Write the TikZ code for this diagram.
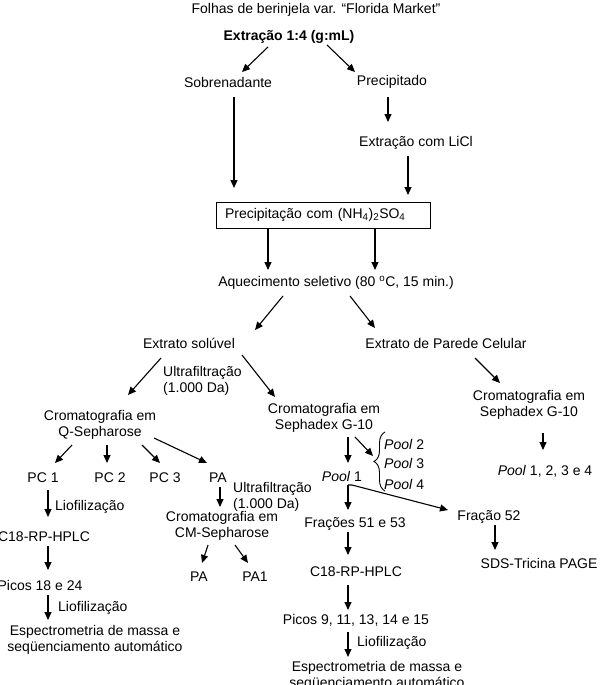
\documentclass[tikz,border=0pt]{standalone}
\usepackage{fontspec}
\setmainfont{Liberation Sans}
\usetikzlibrary{arrows.meta,calc,decorations.pathreplacing}
\begin{document}
\begin{tikzpicture}[x=1pt,y=-1pt,
  every node/.style={inner sep=0pt,font=\fontsize{14}{16}\selectfont},
  lbl/.style={align=center},
  lbll/.style={align=left,anchor=west},
  arr/.style={line width=1.1pt,-{Triangle[length=8pt,width=7pt]}},
  boxstyle/.style={draw,line width=1pt,minimum width=214pt,minimum height=26pt,text width=196pt,inner xsep=9pt,align=left}]
\useasboundingbox (0,0) rectangle (606,685);

\node[lbl] (title) at (316,10) {Folhas de berinjela var. “Florida Market”};
\node[lbl] (ext) at (289,37) {\textbf{Extração 1:4 (g:mL)}};
\node[lbl] (sob) at (228,82) {Sobrenadante};
\node[lbl] (prec) at (392,82) {Precipitado};
\node[lbl] (licl) at (416,143) {Extração com LiCl};
\node[boxstyle] (box) at (323,215) {Precipitação com (NH\textsubscript{4})\textsubscript{2}SO\textsubscript{4}};
\node[lbl] (aq) at (336,283) {Aquecimento seletivo (80 \textsuperscript{o}C, 15 min.)};
\node[lbl] (sol) at (189,343) {Extrato solúvel};
\node[lbl] (par) at (446,343) {Extrato de Parede Celular};
\node[lbll] (uf1) at (163,381) {Ultrafiltração\\(1.000 Da)};
\node[lbl] (cqs) at (100,425) {Cromatografia em\\Q-Sepharose};
\node[lbl] (csg) at (324,418) {Cromatografia em\\Sephadex G-10};
\node[lbl] (csg2) at (529,405) {Cromatografia em\\Sephadex G-10};
\node[lbl] (pool1234) at (545,471) {\textit{Pool} 1, 2, 3 e 4};
\node[lbl] (pc1) at (43,478) {PC 1};
\node[lbl] (pc2) at (110,478) {PC 2};
\node[lbl] (pc3) at (165,478) {PC 3};
\node[lbl] (pa) at (218,478) {PA};
\node[lbll] (liof1) at (55,507) {Liofilização};
\node[lbll] (uf2) at (233,497) {Ultrafiltração\\(1.000 Da)};
\node[lbl] (ccm) at (222,526) {Cromatografia em\\CM-Sepharose};
\node[lbl] (c18a) at (44,537) {C18-RP-HPLC};
\node[lbl] (picosA) at (40,585) {Picos 18 e 24};
\node[lbll] (liof2) at (58,608) {Liofilização};
\node[lbl] (espA) at (95,640) {Espectrometria de massa e\\seqüenciamento automático};
\node[lbl] (paA) at (199,577) {PA};
\node[lbl] (pa1) at (255,577) {PA1};
\node[lbll] (pool2) at (384,444) {\textit{Pool} 2};
\node[lbll] (pool3) at (384,463) {\textit{Pool} 3};
\node[lbll] (pool4) at (384,484) {\textit{Pool} 4};
\node[lbl] (pool1) at (342,476) {\textit{Pool} 1};
\node[lbl] (fr5153) at (355,524) {Frações 51 e 53};
\node[lbl] (fr52) at (489,517) {Fração 52};
\node[lbl] (sds) at (539,563) {SDS-Tricina PAGE};
\node[lbl] (c18b) at (356,572) {C18-RP-HPLC};
\node[lbl] (picosB) at (356,620) {Picos 9, 11, 13, 14 e 15};
\node[lbll] (liof3) at (357,643) {Liofilização};
\node[lbl] (espB) at (377,676) {Espectrometria de massa e\\seqüenciamento automático};

\coordinate (bracetip) at (373,456);

\draw[arr] ($(ext)+(-21,10)$) -- ($(sob)+(14,-10)$);
\draw[arr] ($(ext)+(38,8)$) -- ($(prec)+(-37,-10)$);
\draw[arr] ($(sob)+(6,15)$) -- ($(box)+(-89,-27)$);
\draw[arr] ($(prec)+(-4,15)$) -- ($(licl)+(-28,-21)$);
\draw[arr] ($(licl)+(-8,13)$) -- ($(box)+(85,-20)$);
\draw[arr] ($(box)+(-55,13)$) -- ($(aq)+(-68,-13)$);
\draw[arr] ($(box)+(52,13)$) -- ($(aq)+(39,-13)$);
\draw[arr] ($(aq)+(-53,13)$) -- ($(sol)+(66,-13)$);
\draw[arr] ($(aq)+(14,13)$) -- ($(par)+(-71,-15)$);
\draw[arr] ($(sol)+(-28,15)$) -- ($(cqs)+(28,-30)$);
\draw[arr] ($(sol)+(53,12)$) -- ($(csg)+(-49,-21)$);
\draw[arr] ($(par)+(29,15)$) -- ($(csg2)+(-29,-22)$);
\draw[arr] ($(csg2)+(14,28)$) -- ($(pool1234)+(-2,-21)$);
\draw[arr] ($(cqs)+(-28,20)$) -- ($(pc1)+(12,-15)$);
\draw[arr] ($(cqs)+(7,20)$) -- ($(pc2)+(-3,-15)$);
\draw[arr] ($(cqs)+(42,20)$) -- ($(pc3)+(-5,-15)$);
\draw[arr] ($(cqs)+(54,13)$) -- ($(pa)+(-11,-15)$);
\draw[arr] ($(pc1)+(5,12)$) -- ($(c18a)+(4,-20)$);
\draw[arr] ($(pa)+(2,9)$) -- ($(ccm)+(-2,-19)$);
\draw[arr] ($(ccm)+(-14,19)$) -- ($(paA)+(3,-14)$);
\draw[arr] ($(ccm)+(13,19)$) -- ($(pa1)+(-7,-14)$);
\draw[arr] ($(c18a)+(4,9)$) -- ($(picosA)+(8,-15)$);
\draw[arr] ($(picosA)+(8,10)$) -- ($(espA)+(-47,-20)$);
\draw[arr] ($(csg)+(24,19)$) -- ($(pool1)+(6,-13)$);
\draw[arr] ($(csg)+(31,19)$) -- (bracetip);
\draw[line width=0.9pt,decorate,decoration={brace,amplitude=11pt}] (385,491) -- (385,432);
\draw[arr] ($(pool1)+(6,9)$) -- ($(fr5153)+(-7,-14)$);
\draw[arr] ($(pool1)+(6,9)$) -- ($(pool1)+(10,9)$) -- ($(fr52)+(-41,-7)$);
\draw[arr] ($(fr52)+(6,8)$) -- ($(sds)+(-44,-13)$);
\draw[arr] ($(fr5153)+(-7,8)$) -- ($(c18b)+(-8,-17)$);
\draw[arr] ($(c18b)+(-8,13)$) -- ($(picosB)+(-8,-10)$);
\draw[arr] ($(picosB)+(-8,12)$) -- ($(espB)+(-29,-19)$);
\end{tikzpicture}
\end{document}
